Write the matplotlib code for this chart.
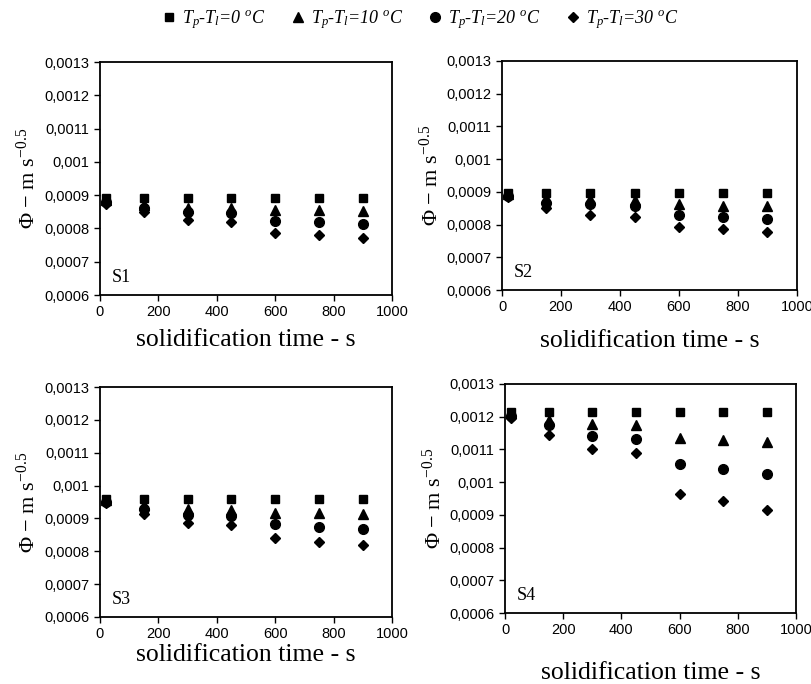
import matplotlib
matplotlib.use("Agg")
import matplotlib.pyplot as plt

# solidification times (s)
time_s = [20, 150, 300, 450, 600, 750, 900]

# Phi values for each sample, one list per superheat (Tp - Tl = 0, 10, 20, 30 oC)
s1_dt0 = [0.000891, 0.000891, 0.000891, 0.000891, 0.000891, 0.000891, 0.000891]
s1_dt10 = [0.000885, 0.000870, 0.000862, 0.000862, 0.000856, 0.000855, 0.000851]
s1_dt20 = [0.000880, 0.000860, 0.000848, 0.000847, 0.000823, 0.000818, 0.000813]
s1_dt30 = [0.000874, 0.000848, 0.000825, 0.000820, 0.000786, 0.000779, 0.000771]

s2_dt0 = [0.000897, 0.000897, 0.000897, 0.000897, 0.000897, 0.000897, 0.000897]
s2_dt10 = [0.000892, 0.000880, 0.000878, 0.000875, 0.000863, 0.000858, 0.000856]
s2_dt20 = [0.000888, 0.000866, 0.000862, 0.000856, 0.000829, 0.000823, 0.000817]
s2_dt30 = [0.000883, 0.000851, 0.000829, 0.000824, 0.000792, 0.000785, 0.000776]

s3_dt0 = [0.000960, 0.000960, 0.000960, 0.000960, 0.000960, 0.000960, 0.000960]
s3_dt10 = [0.000955, 0.000940, 0.000928, 0.000927, 0.000917, 0.000917, 0.000914]
s3_dt20 = [0.000950, 0.000930, 0.000911, 0.000909, 0.000882, 0.000873, 0.000867]
s3_dt30 = [0.000946, 0.000913, 0.000885, 0.000880, 0.000839, 0.000828, 0.000818]

s4_dt0 = [0.001214, 0.001214, 0.001214, 0.001214, 0.001214, 0.001214, 0.001214]
s4_dt10 = [0.001210, 0.001190, 0.001179, 0.001175, 0.001135, 0.001130, 0.001123]
s4_dt20 = [0.001203, 0.001174, 0.001141, 0.001133, 0.001055, 0.001041, 0.001026]
s4_dt30 = [0.001197, 0.001145, 0.001101, 0.001090, 0.000963, 0.000942, 0.000914]

samples = ["S1", "S2", "S3", "S4"]
series_labels = [r"$T_p$-$T_l$=0 $^o$C", r"$T_p$-$T_l$=10 $^o$C",
                 r"$T_p$-$T_l$=20 $^o$C", r"$T_p$-$T_l$=30 $^o$C"]

x_ticks = [0, 200, 400, 600, 800, 1000]
y_ticks = [0.0006, 0.0007, 0.0008, 0.0009, 0.001, 0.0011, 0.0012, 0.0013]
y_tick_labels = ["0,0006", "0,0007", "0,0008", "0,0009", "0,001", "0,0011", "0,0012", "0,0013"]

panel_data = [
    [s1_dt0, s1_dt10, s1_dt20, s1_dt30],
    [s2_dt0, s2_dt10, s2_dt20, s2_dt30],
    [s3_dt0, s3_dt10, s3_dt20, s3_dt30],
    [s4_dt0, s4_dt10, s4_dt20, s4_dt30],
]

plt.rcParams["mathtext.fontset"] = "custom"
plt.rcParams["mathtext.it"] = "Liberation Serif:italic"
plt.rcParams["mathtext.rm"] = "Liberation Serif"

fig = plt.figure(figsize=(8.11, 6.84), dpi=100)

# axes boxes in figure fractions
boxes = [
    [0.1233, 0.5687, 0.360, 0.3406],
    [0.619, 0.576, 0.3637, 0.335],
    [0.1233, 0.098, 0.360, 0.336],
    [0.6227, 0.1038, 0.3588, 0.3348],
]
xlabel_pads = [7, 11, 2, 18]

markers = ["s", "^", "o", "D"]
msizes = [6, 7, 7, 5]

for i, name in enumerate(samples):
    ax = fig.add_axes(boxes[i])
    for vals, m, ms in zip(panel_data[i], markers, msizes):
        ax.plot(time_s, vals, linestyle="none", marker=m, markersize=ms,
                color="black", clip_on=False)
    ax.set_xlim(0, 1000)
    ax.set_ylim(0.0006, 0.0013)
    ax.set_xticks(x_ticks)
    ax.set_yticks(y_ticks)
    ax.set_yticklabels(y_tick_labels)
    ax.tick_params(labelsize=10.5, length=4, width=1, direction="out")
    for lab in ax.get_xticklabels() + ax.get_yticklabels():
        lab.set_fontfamily("Liberation Sans")
    for sp in ax.spines.values():
        sp.set_linewidth(1.3)
    ax.set_xlabel("solidification time - s", fontsize=18.5,
                  fontfamily="Liberation Serif", labelpad=xlabel_pads[i])
    ax.set_ylabel(r"$\Phi$ $-$ m s$^{-0.5}$", fontsize=16,
                  fontfamily="Liberation Serif", labelpad=3)
    ax.text(0.04, 0.04, name, transform=ax.transAxes, fontsize=13,
            fontfamily="Liberation Serif", va="bottom", ha="left")

handles = [plt.Line2D([], [], linestyle="none", marker=m, markersize=ms, color="black")
           for m, ms in zip(markers, msizes)]
leg = fig.legend(handles, series_labels, loc="center", bbox_to_anchor=(0.518, 0.972),
                 ncol=4, frameon=False, handletextpad=0.3, columnspacing=1.4,
                 handlelength=0.8, prop={"family": "Liberation Serif", "style": "italic", "size": 13})

fig.savefig("out.png", dpi=100)
